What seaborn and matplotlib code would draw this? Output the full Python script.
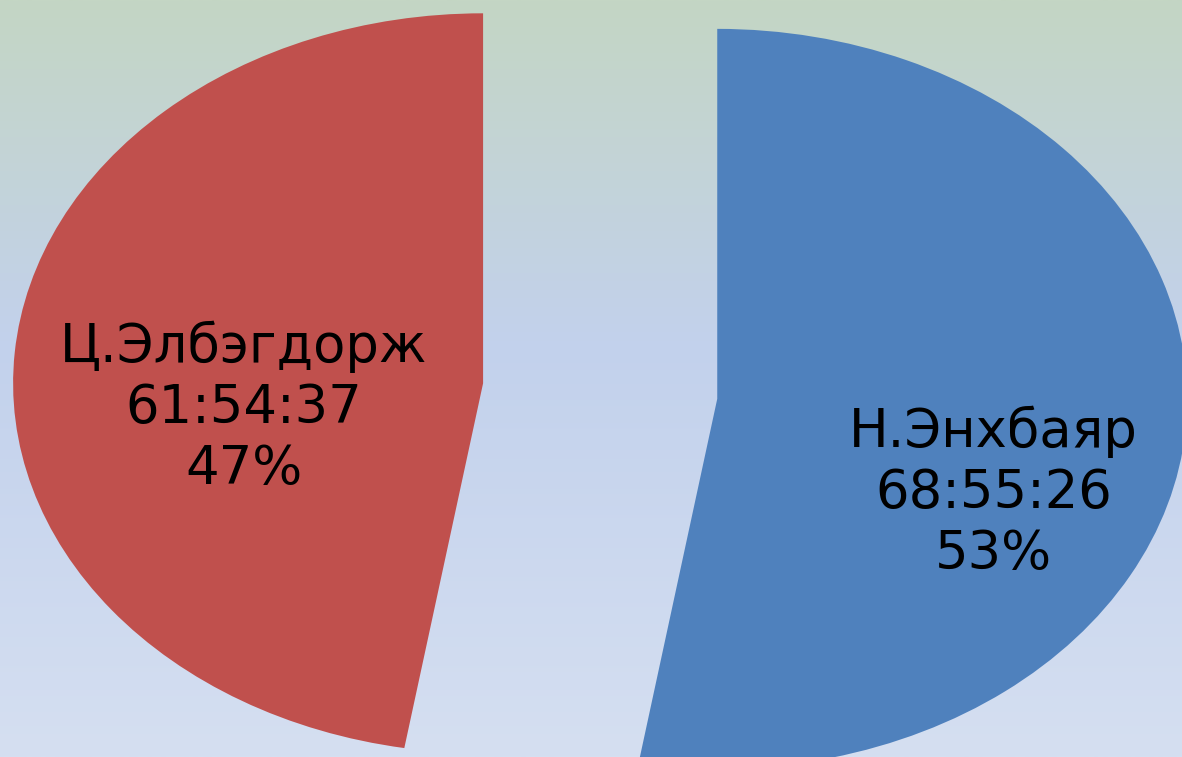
import numpy as np
import matplotlib
matplotlib.use("Agg")
import matplotlib.pyplot as plt
import seaborn as sns
from matplotlib.colors import LinearSegmentedColormap

sns.set_theme(style="white")
plt.rcParams['font.family'] = ['DejaVu Sans']

# Data
names = ["Ц.Элбэгдорж", "Н.Энхбаяр"]
durations = ["61:54:37", "68:55:26"]
percents = ["47%", "53%"]
seconds = [222877, 248126]  # 61:54:37 and 68:55:26 in seconds
colors = ["#c0504d", "#4f81bd"]

fig = plt.figure(figsize=(11.82, 7.57), dpi=100)

# background gradient
bg = fig.add_axes([0, 0, 1, 1], zorder=0)
cmap = LinearSegmentedColormap.from_list(
    "bg", [(0.0, "#c4d6c4"), (0.45, "#c2d1ec"), (1.0, "#d5dff1")])
grad = np.linspace(0, 1, 256).reshape(-1, 1)
bg.imshow(grad, aspect="auto", cmap=cmap, extent=[0, 1, 0, 1], origin="upper")
bg.set_axis_off()

ax = fig.add_axes([0, 0, 1, 1], zorder=1)
ax.patch.set_alpha(0)
ax.pie(seconds, colors=colors, startangle=90, counterclock=True,
       explode=[0.25, 0.25], wedgeprops=dict(linewidth=0))
ax.set_aspect("auto")
ax.set_xlim(-1.277, 1.238)
ax.set_ylim(-0.989, 1.057)
ax.set_axis_off()

label_pos = [(-0.758, -0.045), (0.837, -0.275)]
for (x, y), n, d, p in zip(label_pos, names, durations, percents):
    ax.text(x, y, f"{n}\n{d}\n{p}", ha="center", va="center",
            fontsize=38, color="black", linespacing=1.22)

fig.savefig("out.png", dpi=100)
